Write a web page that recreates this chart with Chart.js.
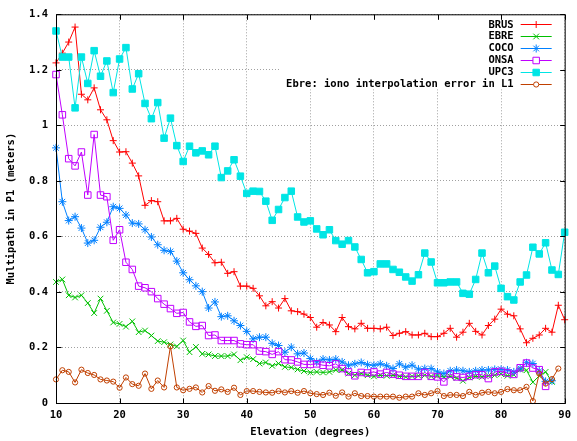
<!DOCTYPE html>
<html>
<head>
<meta charset="utf-8">
<title>Multipath in P1 vs elevation</title>
<script src="https://cdn.jsdelivr.net/npm/chart.js@4.4.0/dist/chart.umd.min.js"></script>
<style>
  html, body { margin: 0; padding: 0; background: #fff; }
  canvas { display: block; }
</style>
</head>
<body>
<canvas id="mp" width="577" height="441"></canvas>
<script>
// Elevation bins, one per degree
const elevation = [
  10, 11, 12, 13, 14, 15, 16, 17, 18, 19,
  20, 21, 22, 23, 24, 25, 26, 27, 28, 29,
  30, 31, 32, 33, 34, 35, 36, 37, 38, 39,
  40, 41, 42, 43, 44, 45, 46, 47, 48, 49,
  50, 51, 52, 53, 54, 55, 56, 57, 58, 59,
  60, 61, 62, 63, 64, 65, 66, 67, 68, 69,
  70, 71, 72, 73, 74, 75, 76, 77, 78, 79,
  80, 81, 82, 83, 84, 85, 86, 87, 88, 89, 90
];

// Multipath in P1 (meters) per station
const brus = [
  1.225, 1.260, 1.300, 1.354, 1.112, 1.092, 1.135, 1.056, 1.020, 0.945,
  0.904, 0.905, 0.864, 0.818, 0.712, 0.729, 0.725, 0.656, 0.656, 0.665,
  0.626, 0.619, 0.611, 0.558, 0.535, 0.505, 0.507, 0.467, 0.473, 0.421,
  0.421, 0.413, 0.386, 0.350, 0.365, 0.342, 0.376, 0.332, 0.329, 0.320,
  0.308, 0.273, 0.290, 0.281, 0.257, 0.308, 0.275, 0.267, 0.287, 0.269,
  0.269, 0.267, 0.273, 0.243, 0.251, 0.257, 0.245, 0.245, 0.251, 0.239,
  0.239, 0.251, 0.269, 0.237, 0.255, 0.287, 0.258, 0.245, 0.279, 0.302,
  0.338, 0.320, 0.314, 0.267, 0.217, 0.233, 0.245, 0.269, 0.255, 0.352, 0.300
];
const ebre = [
  0.436, 0.445, 0.388, 0.380, 0.388, 0.360, 0.324, 0.376, 0.332, 0.290,
  0.285, 0.275, 0.294, 0.255, 0.261, 0.243, 0.223, 0.219, 0.211, 0.204,
  0.225, 0.183, 0.202, 0.177, 0.175, 0.169, 0.169, 0.169, 0.175, 0.154,
  0.165, 0.158, 0.142, 0.146, 0.134, 0.142, 0.130, 0.128, 0.121, 0.115,
  0.110, 0.112, 0.110, 0.112, 0.119, 0.119, 0.106, 0.100, 0.106, 0.100,
  0.096, 0.100, 0.098, 0.100, 0.096, 0.094, 0.096, 0.098, 0.100, 0.096,
  0.098, 0.094, 0.096, 0.090, 0.080, 0.092, 0.096, 0.094, 0.098, 0.100,
  0.104, 0.098, 0.102, 0.120, 0.118, 0.075, 0.098, 0.112, 0.076, null, null
];
const coco = [
  0.919, 0.725, 0.657, 0.671, 0.630, 0.576, 0.586, 0.633, 0.651, 0.707,
  0.701, 0.677, 0.648, 0.645, 0.624, 0.598, 0.570, 0.550, 0.546, 0.511,
  0.469, 0.444, 0.422, 0.401, 0.342, 0.364, 0.311, 0.314, 0.296, 0.279,
  0.258, 0.231, 0.237, 0.237, 0.215, 0.207, 0.183, 0.201, 0.177, 0.180,
  0.160, 0.148, 0.158, 0.155, 0.158, 0.148, 0.136, 0.141, 0.146, 0.138,
  0.136, 0.141, 0.134, 0.124, 0.141, 0.129, 0.136, 0.122, 0.124, 0.124,
  0.112, 0.106, 0.116, 0.119, 0.116, 0.112, 0.116, 0.119, 0.119, 0.121,
  0.121, 0.119, 0.112, 0.125, 0.145, 0.142, 0.115, 0.078, 0.080, null, null
];
const onsa = [
  1.183, 1.038, 0.880, 0.854, 0.904, 0.749, 0.967, 0.749, 0.743, 0.586,
  0.624, 0.507, 0.481, 0.421, 0.415, 0.401, 0.376, 0.356, 0.340, 0.323,
  0.326, 0.292, 0.276, 0.279, 0.243, 0.245, 0.225, 0.225, 0.225, 0.213,
  0.210, 0.210, 0.187, 0.185, 0.175, 0.185, 0.156, 0.155, 0.148, 0.139,
  0.139, 0.141, 0.136, 0.134, 0.141, 0.124, 0.112, 0.098, 0.110, 0.108,
  0.112, 0.104, 0.110, 0.104, 0.100, 0.096, 0.096, 0.096, 0.110, 0.096,
  0.094, 0.076, 0.104, 0.094, 0.092, 0.096, 0.102, 0.102, 0.088, 0.112,
  0.114, 0.108, 0.103, 0.127, 0.144, 0.126, 0.120, 0.060, null, null, null
];
const upc3 = [
  1.340, 1.246, 1.246, 1.063, 1.246, 1.151, 1.269, 1.177, 1.232, 1.118,
  1.239, 1.280, 1.131, 1.186, 1.079, 1.024, 1.082, 0.954, 1.026, 0.927,
  0.870, 0.925, 0.901, 0.908, 0.894, 0.925, 0.812, 0.836, 0.876, 0.817,
  0.755, 0.763, 0.762, 0.727, 0.658, 0.697, 0.740, 0.763, 0.670, 0.652,
  0.656, 0.627, 0.606, 0.624, 0.585, 0.572, 0.585, 0.562, 0.517, 0.469,
  0.473, 0.501, 0.501, 0.481, 0.471, 0.454, 0.439, 0.462, 0.540, 0.508,
  0.433, 0.433, 0.436, 0.436, 0.395, 0.392, 0.445, 0.540, 0.469, 0.493,
  0.413, 0.383, 0.371, 0.436, 0.461, 0.561, 0.537, 0.577, 0.479, 0.463, 0.615
];
const ebreIono = [
  0.085, 0.118, 0.112, 0.074, 0.120, 0.108, 0.101, 0.085, 0.081, 0.077,
  0.055, 0.092, 0.068, 0.062, 0.106, 0.051, 0.081, 0.056, 0.204, 0.056,
  0.046, 0.051, 0.056, 0.038, 0.061, 0.044, 0.049, 0.040, 0.055, 0.029,
  0.043, 0.043, 0.040, 0.038, 0.037, 0.043, 0.038, 0.043, 0.037, 0.043,
  0.035, 0.032, 0.029, 0.037, 0.026, 0.038, 0.023, 0.035, 0.025, 0.025,
  0.023, 0.023, 0.023, 0.023, 0.019, 0.023, 0.023, 0.035, 0.029, 0.035,
  0.043, 0.025, 0.029, 0.029, 0.025, 0.040, 0.029, 0.037, 0.040, 0.035,
  0.040, 0.050, 0.046, 0.046, 0.058, 0.007, 0.106, 0.070, 0.086, 0.124, null
];

// Axis ticks
const xTicks = [10, 20, 30, 40, 50, 60, 70, 80, 90];
const yTicks = [0, 0.2, 0.4, 0.6, 0.8, 1, 1.2, 1.4];

const FONT_FAMILY = "'DejaVu Sans Mono', 'Liberation Mono', monospace";
const FONT = { family: FONT_FAMILY, size: 10.5, weight: "bold", lineHeight: 1.2 };

// line + point style for each station
const series = [
  { label: "BRUS", values: brus, color: "#ff0000", point: "cross", radius: 3.5, filled: false },
  { label: "EBRE", values: ebre, color: "#00c000", point: "crossRot", radius: 4, filled: false },
  { label: "COCO", values: coco, color: "#0080ff", point: "star", radius: 4, filled: false },
  { label: "ONSA", values: onsa, color: "#c000ff", point: "rect", radius: 4.6, filled: false },
  { label: "UPC3", values: upc3, color: "#00e5e5", point: "rect", radius: 4.6, filled: true },
  { label: "Ebre: iono interpolation error in L1", values: ebreIono, color: "#c04000", point: "circle", radius: 2.6, filled: false }
];

function toPoints(values) {
  return elevation
    .map((x, i) => ({ x, y: values[i] }))
    .filter(p => p.y !== null && p.y !== undefined);
}

// border, inward ticks on all four sides, and the key (gnuplot look)
const framePlugin = {
  id: "frame",
  beforeDatasetsDraw(chart) {
    // no grid under the key
    const { ctx, chartArea: a } = chart;
    ctx.save();
    ctx.fillStyle = "#fff";
    ctx.fillRect(a.right - 285, a.top + 1, 284, 74);
    ctx.restore();
  },
  afterDatasetsDraw(chart) {
    const { ctx, chartArea: a, scales } = chart;
    const L = a.left + 0.5, R = a.right + 0.5, T = a.top + 0.5, B = a.bottom + 0.5;
    ctx.save();
    ctx.strokeStyle = "#000";
    ctx.lineWidth = 1;
    ctx.setLineDash([]);
    ctx.strokeRect(L, T, R - L, B - T);

    ctx.beginPath();
    xTicks.forEach(v => {
      const px = Math.round(scales.x.getPixelForValue(v)) + 0.5;
      ctx.moveTo(px, B); ctx.lineTo(px, B - 5);
      ctx.moveTo(px, T); ctx.lineTo(px, T + 5);
    });
    yTicks.forEach(v => {
      const py = Math.round(scales.y.getPixelForValue(v)) + 0.5;
      ctx.moveTo(L, py); ctx.lineTo(L + 5, py);
      ctx.moveTo(R, py); ctx.lineTo(R - 5, py);
    });
    ctx.stroke();

    // key
    const textX = a.right - 51;
    const lineX0 = a.right - 44, lineX1 = a.right - 13;
    ctx.font = `bold ${FONT.size}px ${FONT_FAMILY}`;
    ctx.textAlign = "right";
    ctx.textBaseline = "middle";
    series.forEach((s, i) => {
      const y = a.top + 10 + i * 11.9;
      ctx.fillStyle = "#000";
      ctx.fillText(s.label, textX, y + 0.5);
      ctx.strokeStyle = s.color;
      ctx.lineWidth = 1;
      ctx.beginPath();
      ctx.moveTo(lineX0, Math.round(y) + 0.5);
      ctx.lineTo(lineX1, Math.round(y) + 0.5);
      ctx.stroke();
      ctx.fillStyle = s.filled ? s.color : "#fff";
      Chart.helpers.drawPoint(ctx, {
        pointStyle: s.point, radius: s.radius, borderWidth: 1, rotation: 0
      }, (lineX0 + lineX1) / 2, Math.round(y) + 0.5);
    });
    ctx.restore();
  }
};

new Chart(document.getElementById("mp"), {
  type: "line",
  data: {
    datasets: series.map((s, i) => ({
      label: s.label,
      data: toPoints(s.values),
      borderColor: s.color,
      backgroundColor: s.color,
      borderWidth: 1,
      tension: 0,
      pointStyle: s.point,
      pointRadius: s.radius,
      pointBorderWidth: 1,
      pointBorderColor: s.color,
      pointBackgroundColor: s.filled ? s.color : "rgba(0,0,0,0)",
      order: series.length - i,
      clip: 8
    }))
  },
  options: {
    responsive: false,
    animation: false,
    devicePixelRatio: 1,
    events: [],
    layout: { padding: { top: 11, right: 7, bottom: 0, left: 0 }, autoPadding: false },
    plugins: { legend: { display: false }, tooltip: { enabled: false } },
    scales: {
      x: {
        type: "linear",
        min: 10,
        max: 90,
        afterBuildTicks: axis => { axis.ticks = xTicks.map(value => ({ value })); },
        afterFit: axis => { axis.height = 38; },
        ticks: { font: FONT, color: "#000", padding: 6, maxRotation: 0, autoSkip: false, callback: v => String(v) },
        grid: { color: "#a0a0a0", lineWidth: 1, drawTicks: false },
        border: { display: false, dash: [1, 2] },
        title: { display: true, text: "Elevation (degrees)", font: FONT, color: "#000", padding: { top: 0, bottom: 2 } }
      },
      y: {
        type: "linear",
        min: 0,
        max: 1.4,
        afterBuildTicks: axis => { axis.ticks = yTicks.map(value => ({ value })); },
        afterFit: axis => { axis.width = 56; },
        ticks: { font: FONT, color: "#000", padding: 8, autoSkip: false, callback: v => String(v) },
        grid: { color: "#a0a0a0", lineWidth: 1, drawTicks: false },
        border: { display: false, dash: [1, 2] },
        title: { display: true, text: "Multipath in P1 (meters)", font: FONT, color: "#000", padding: { top: 5, bottom: 0 } }
      }
    }
  },
  plugins: [framePlugin]
});
</script>
</body>
</html>
